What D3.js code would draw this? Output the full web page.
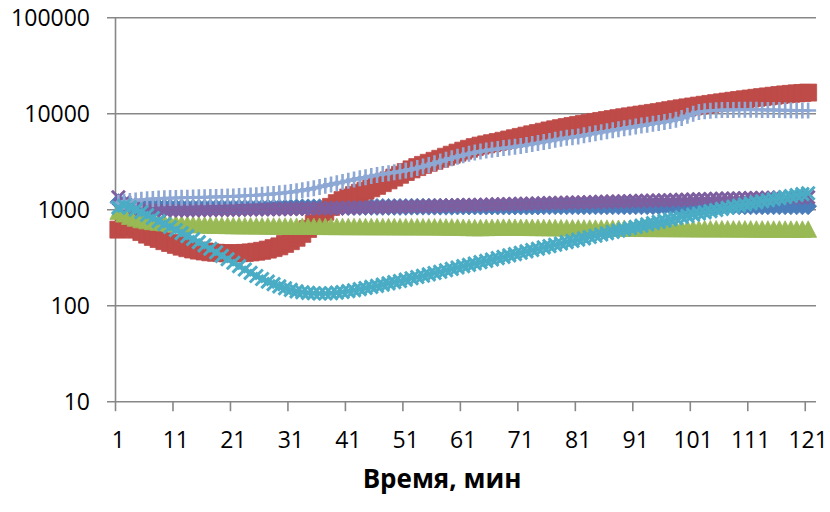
<!DOCTYPE html>
<html><head><meta charset="utf-8">
<script src="https://cdn.jsdelivr.net/npm/d3@7"></script>
<style>body{margin:0;background:#fff}svg{display:block}</style>
</head><body>
<svg id="c" width="830" height="512"></svg>
<script>
const categories = d3.range(1, 122);
const xTickLabels = ["1","11","21","31","41","51","61","71","81","91","101","111","121"];
const yTickValues = [10, 100, 1000, 10000, 100000];
const xTitle = "Время, мин";

const blueDiamond = [
1200,1150,1120,1100,1085,1075,1070,1065,1060,1060,
1055,1055,1050,1050,1050,1050,1050,1050,1050,1050,
1050,1050,1050,1050,1050,1050,1055,1055,1055,1055,
1055,1060,1060,1060,1060,1060,1060,1065,1065,1065,
1065,1065,1065,1070,1070,1070,1070,1070,1070,1070,
1070,1075,1075,1075,1075,1075,1075,1075,1075,1080,
1080,1080,1080,1080,1080,1080,1080,1080,1080,1080,
1080,1080,1080,1080,1085,1085,1085,1085,1085,1085,
1085,1085,1085,1085,1085,1085,1085,1085,1085,1085,
1085,1085,1085,1085,1085,1085,1085,1085,1085,1085,
1085,1085,1085,1085,1085,1085,1085,1085,1085,1085,
1085,1085,1085,1085,1085,1085,1085,1085,1085,1085,
1085];

const redSquare = [
620,700,660,620,585,550,520,495,470,450,
430,412,397,385,375,367,360,356,353,351,
351,352,355,359,365,373,384,398,415,440,
470,510,560,630,720,830,950,1070,1170,1260,
1340,1420,1500,1580,1670,1770,1890,2020,2160,2310,
2470,2630,2780,2930,3080,3230,3390,3560,3740,3930,
4120,4310,4490,4650,4790,4930,5070,5220,5380,5550,
5730,5910,6100,6290,6490,6690,6880,7070,7260,7450,
7640,7830,8020,8210,8400,8590,8790,8990,9190,9390,
9590,9790,9990,10190,10390,10640,10890,11140,11390,11640,
11890,12140,12390,12640,12890,13140,13390,13640,13890,14140,
14390,14640,14890,15140,15390,15640,15890,16090,16290,16440,
16600];

const greenTriangle = [
960,900,850,815,785,765,750,738,728,720,
713,707,702,698,694,691,688,686,684,682,
680,679,678,677,676,675,674,673,672,671,
670,670,669,669,668,668,667,667,666,666,
665,665,665,664,664,664,663,663,663,662,
662,662,661,661,660,660,659,658,657,655,
652,650,648,648,650,652,654,655,655,654,
653,652,651,650,649,648,647,646,645,644,
643,642,641,640,640,639,639,638,638,637,
637,636,636,635,635,634,634,633,633,632,
632,631,631,630,630,630,629,629,628,628,
628,627,627,626,626,626,625,625,625,624,
624];

const purpleCross = [
1350,1200,1110,1060,1030,1010,1000,995,990,990,
990,990,990,990,995,995,995,1000,1000,1000,
1000,1005,1005,1005,1010,1010,1010,1015,1015,1020,
1020,1025,1025,1030,1030,1035,1035,1040,1040,1045,
1045,1050,1050,1055,1060,1060,1065,1065,1070,1075,
1075,1080,1085,1085,1090,1095,1095,1100,1105,1110,
1110,1115,1120,1120,1125,1130,1135,1135,1140,1145,
1150,1150,1155,1160,1165,1170,1170,1175,1180,1185,
1190,1190,1195,1200,1205,1210,1215,1215,1220,1225,
1230,1235,1240,1240,1245,1250,1255,1260,1265,1270,
1275,1280,1285,1290,1295,1300,1305,1305,1310,1315,
1320,1320,1325,1330,1330,1335,1335,1340,1340,1345,
1350];

const lightBluePlus = [
1180,1210,1230,1250,1270,1285,1295,1305,1315,1320,
1325,1330,1335,1340,1345,1350,1355,1360,1365,1370,
1375,1385,1395,1405,1415,1430,1445,1460,1480,1500,
1525,1555,1590,1630,1675,1725,1780,1835,1890,1945,
2000,2060,2120,2180,2240,2300,2350,2400,2450,2500,
2560,2630,2720,2820,2930,3050,3180,3310,3440,3570,
3700,3830,3950,4050,4140,4220,4300,4380,4450,4530,
4620,4720,4830,4950,5080,5210,5340,5470,5600,5700,
5800,5950,6100,6250,6400,6560,6720,6880,7040,7200,
7360,7520,7680,7850,8020,8200,8400,8650,9000,9500,
10000,10400,10600,10750,10850,10900,10950,10950,11000,11000,
11000,11000,10950,10950,10900,10900,10850,10850,10800,10800,
10800];

const aquaStar = [
1050,1100,1060,1000,940,880,820,760,710,660,
615,570,530,495,460,425,392,360,330,305,
280,258,238,220,204,190,178,168,159,152,
146,141,138,136,135,134,134,135,137,139,
142,145,149,153,157,161,166,171,176,181,
187,193,199,205,212,219,226,234,242,250,
258,266,275,284,293,303,313,323,334,345,
356,368,380,392,405,418,431,445,459,473,
488,503,519,535,552,569,587,605,624,643,
663,683,704,725,747,769,792,815,839,863,
888,913,939,965,992,1019,1047,1075,1104,1133,
1163,1193,1224,1255,1287,1319,1352,1385,1418,1452,
1486];

const svg = d3.select('#c');
const x = d3.scaleBand().domain(categories).range([115.5, 811]).padding(0);
const cx = i => x(i) + x.bandwidth() / 2;
const y = d3.scaleLog().domain([10, 100000]).range([401.7, 17.7]);
const axisColor = '#878787';
const font = "'Open Sans', 'Liberation Sans', sans-serif";

// gridlines
svg.append('g').selectAll('line').data(yTickValues.slice(1)).join('line')
  .attr('x1', 107).attr('x2', 816)
  .attr('y1', d => y(d)).attr('y2', d => y(d))
  .attr('stroke', axisColor).attr('stroke-width', 1.6);

// y axis
svg.append('line').attr('x1', 115.5).attr('x2', 115.5)
  .attr('y1', y(100000)).attr('y2', y(10))
  .attr('stroke', axisColor).attr('stroke-width', 1.6);
// x axis
svg.append('line').attr('x1', 107).attr('x2', 816)
  .attr('y1', y(10)).attr('y2', y(10))
  .attr('stroke', axisColor).attr('stroke-width', 1.6);
// x ticks
svg.append('g').selectAll('line').data(xTickLabels).join('line')
  .attr('x1', d => x(+d)).attr('x2', d => x(+d))
  .attr('y1', y(10)).attr('y2', y(10) + 9.5)
  .attr('stroke', axisColor).attr('stroke-width', 1.6);

// y labels
svg.append('g').selectAll('text').data(yTickValues).join('text')
  .attr('x', 90).attr('y', d => y(d) + 8.2)
  .attr('text-anchor', 'end')
  .attr('font-family', font).attr('font-size', 23).attr('fill', '#000')
  .text(d => String(d));

// x labels
svg.append('g').selectAll('text').data(xTickLabels).join('text')
  .attr('x', d => cx(+d)).attr('y', 448)
  .attr('text-anchor', 'middle')
  .attr('font-family', font).attr('font-size', 23).attr('fill', '#000')
  .text(d => d);

// title
svg.append('text').attr('x', 442).attr('y', 488)
  .attr('text-anchor', 'middle')
  .attr('font-family', font).attr('font-size', 26).attr('font-weight', 'bold')
  .attr('fill', '#000').text(xTitle);

const markers = {
  diamond: 'M0,-8.5L8.5,0L0,8.5L-8.5,0Z',
  square: 'M-8.5,-8.5H8.5V8.5H-8.5Z',
  triangle: 'M0,-8.5L8.5,8L-8.5,8Z',
  cross: 'M-6.5,-6.5L6.5,6.5M-6.5,6.5L6.5,-6.5',
  plus: 'M0,-8V8M-8,0H8'
};

const series = [
  {data: blueDiamond, color: '#4A7EBB', marker: 'diamond', fill: true},
  {data: redSquare, color: '#BE4B48', marker: 'square', fill: true},
  {data: greenTriangle, color: '#98B954', marker: 'triangle', fill: true},
  {data: purpleCross, color: '#7D5FA0', marker: 'cross', fill: false, sw: 3},
  {data: lightBluePlus, color: '#8DA8D4', marker: 'plus', fill: false, sw: 2.6},
  {data: aquaStar, color: '#4AACC5', marker: 'cross', fill: false, sw: 3}
];

const line = d3.line().x((d, i) => cx(categories[i])).y(d => y(d));

series.forEach(s => {
  const g = svg.append('g');
  g.append('path').attr('d', line(s.data)).attr('fill', 'none')
    .attr('stroke', s.color).attr('stroke-width', 3);
  g.selectAll('path.m').data(s.data).join('path').attr('class', 'm')
    .attr('transform', (d, i) => `translate(${cx(categories[i])},${y(d)})`)
    .attr('d', markers[s.marker])
    .attr('fill', s.fill ? s.color : 'none')
    .attr('stroke', s.color)
    .attr('stroke-width', s.fill ? 0.8 : s.sw);
});
</script>
</body></html>
